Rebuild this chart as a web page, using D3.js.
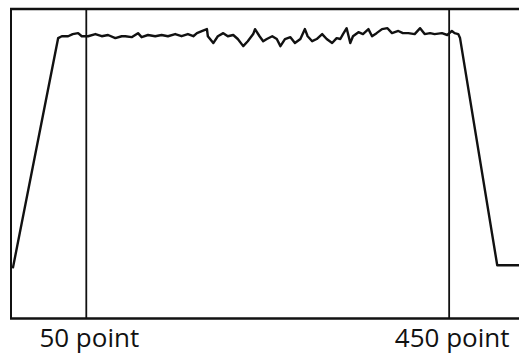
<!DOCTYPE html>
<html>
<head>
<meta charset="utf-8">
<script src="https://cdn.jsdelivr.net/npm/d3@7"></script>
<style>
  html, body { margin: 0; padding: 0; background: #fff; }
  svg { display: block; }
</style>
</head>
<body>
<svg id="chart" width="519" height="354"></svg>
<script>
// Trace: sample point index
const points = [-31, 19, 23, 30, 35, 41, 45, 52, 60, 67, 74, 82, 89, 93, 100, 107, 111, 118, 126, 133, 140, 148, 155, 162, 168,
  172, 178, 183, 184, 190, 195, 201, 206, 212, 217, 223, 228, 234, 236, 241, 245,
  249, 255, 260, 264, 269, 275, 280, 286, 291, 294, 299, 304, 310, 315, 321,
  326, 330, 333, 337, 341, 344, 350, 355, 361, 365, 370, 376, 382, 387, 394, 399,
  405, 412, 418, 423, 429, 434, 442, 448, 453, 456, 460, 462, 503, 527];
// Trace: signal level
const values = [16.2, 90.6, 91.2, 91.2, 91.9, 92.2, 91.2, 91.2, 91.9, 91.2, 91.6, 90.6, 91.2, 91.2, 90.9, 92.2, 90.9, 91.6, 91.2, 91.6, 91.2, 91.9, 91.2, 91.9, 91.2,
  92.2, 92.9, 93.5, 91.2, 89.0, 91.2, 92.2, 91.2, 91.6, 90.3, 88.0, 89.6, 91.9, 93.5, 91.2, 89.6,
  90.3, 91.2, 90.3, 88.0, 90.3, 90.9, 89.0, 90.3, 93.5, 91.2, 89.6, 90.3, 91.9, 90.3, 89.0,
  90.6, 90.3, 91.9, 93.8, 89.0, 91.2, 92.5, 91.9, 93.5, 91.2, 92.2, 93.5, 93.8, 92.2, 92.9, 92.2,
  92.2, 91.9, 93.8, 91.9, 92.2, 91.9, 92.2, 91.6, 92.9, 92.2, 91.9, 90.6, 17.2, 17.2];
// Vertical markers
const markers = [50, 450];
const markerLabels = ["50 point", "450 point"];

const svg = d3.select("#chart");
const padL = 11, padR = 519, padT = 9, padB = 318.5;

const x = d3.scaleLinear().domain([-33, 527]).range([padL, padR]);
const y = d3.scaleLinear().domain([0, 100]).range([padB, padT]);

const ink = "#111";

// Frame
svg.append("line").attr("x1", padL).attr("x2", padL).attr("y1", padT).attr("y2", padB)
  .attr("stroke", ink).attr("stroke-width", 2);
svg.append("line").attr("x1", padL - 1).attr("x2", padR).attr("y1", padT).attr("y2", padT)
  .attr("stroke", ink).attr("stroke-width", 2.5);
svg.append("line").attr("x1", padL - 1).attr("x2", padR).attr("y1", padB).attr("y2", padB)
  .attr("stroke", ink).attr("stroke-width", 2.5);

// Marker lines
svg.selectAll(".marker").data(markers).enter().append("line")
  .attr("class", "marker")
  .attr("x1", d => x(d)).attr("x2", d => x(d))
  .attr("y1", padT).attr("y2", padB)
  .attr("stroke", ink).attr("stroke-width", 1.8);

// Trace
const data = points.map((p, i) => [p, values[i]]);
svg.append("path").datum(data)
  .attr("fill", "none").attr("stroke", ink).attr("stroke-width", 2.4)
  .attr("stroke-linejoin", "round")
  .attr("d", d3.line().x(d => x(d[0])).y(d => y(d[1])));

// Labels
svg.selectAll(".lbl").data(markers).enter().append("text")
  .attr("class", "lbl")
  .attr("x", d => x(d) + 3)
  .attr("y", 347)
  .attr("text-anchor", "middle")
  .attr("font-family", "'Open Sans', 'Noto Sans', sans-serif")
  .attr("font-size", 26)
  .attr("fill", ink)
  .text((d, i) => markerLabels[i]);
</script>
</body>
</html>
